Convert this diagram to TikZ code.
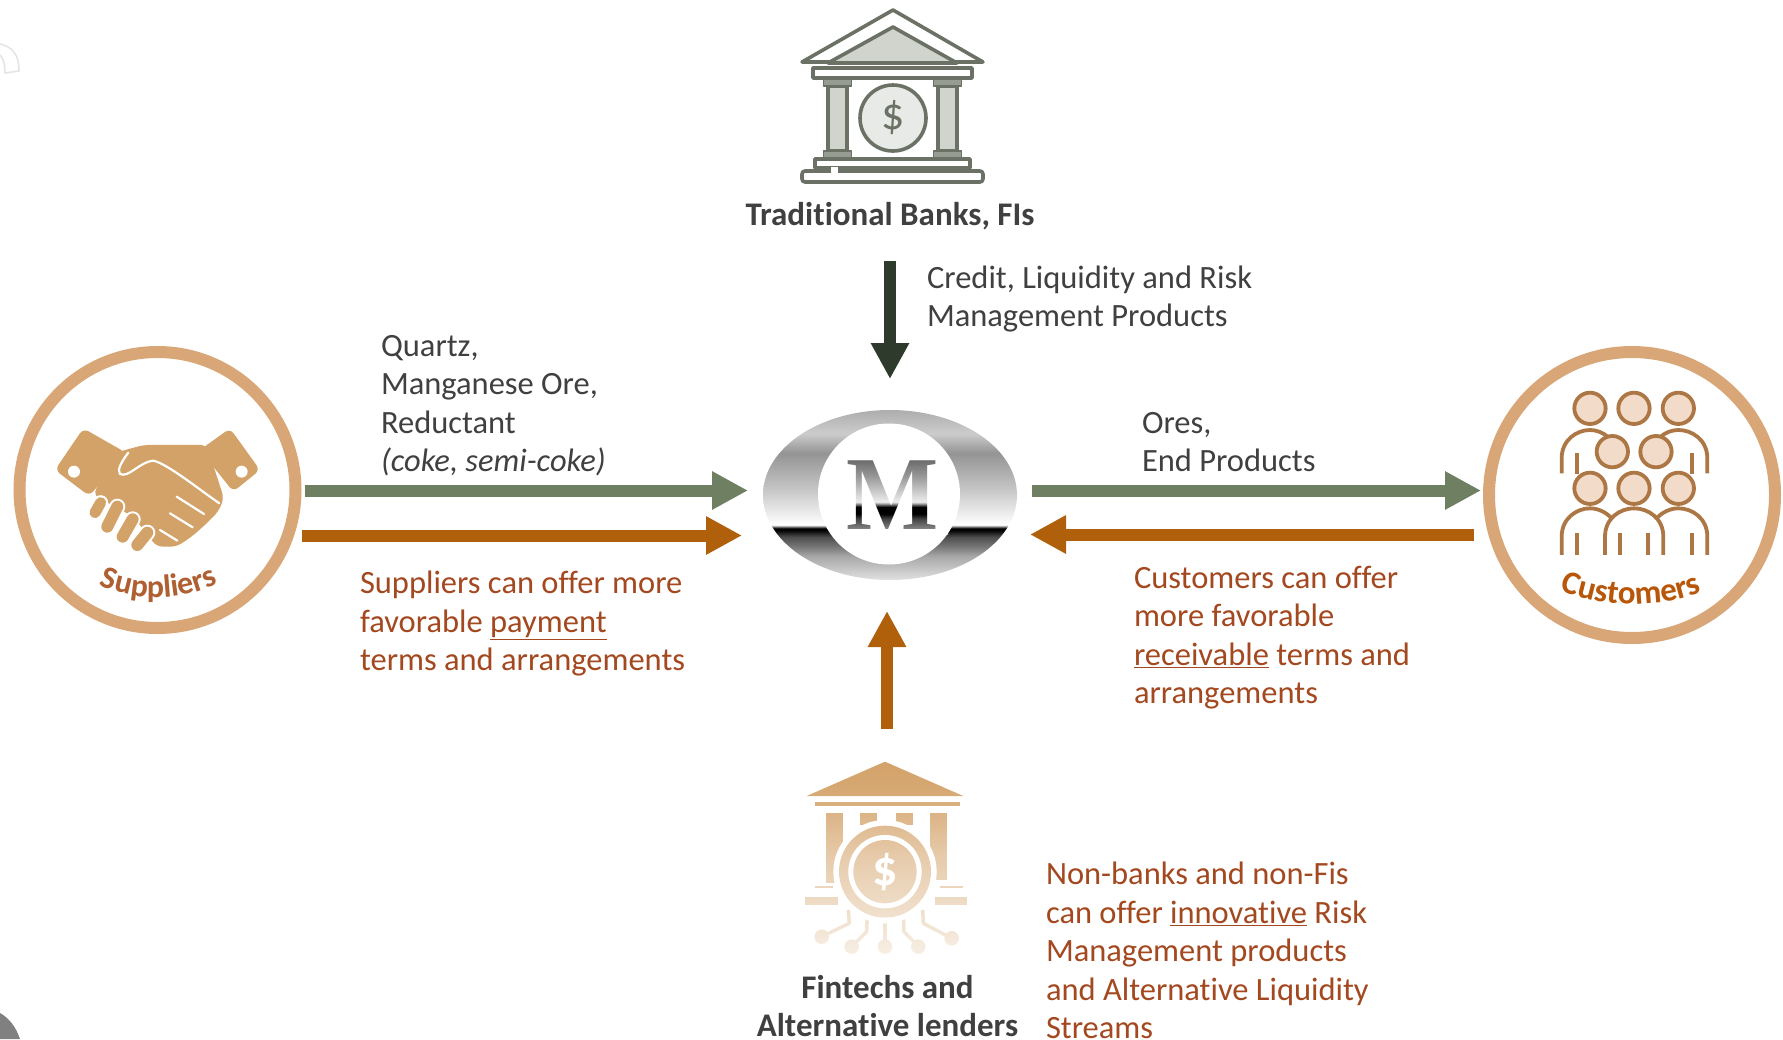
\documentclass[tikz,border=0pt]{standalone}
\usepackage{fontspec}
\setmainfont[Ligatures=NoCommon]{Carlito}
\newfontfamily\logofont{Liberation Serif}
\usetikzlibrary{arrows.meta,decorations.text,shapes.geometric,calc}
\definecolor{gbar}{HTML}{6E7F62}
\definecolor{obar}{HTML}{B0600A}
\definecolor{dbar}{HTML}{2E3B2C}
\definecolor{txtd}{HTML}{404040}
\definecolor{txto}{HTML}{A3481F}
\definecolor{ring}{HTML}{D9A777}
\definecolor{hand}{HTML}{D3A269}
\definecolor{bankd}{HTML}{6B7265}
\definecolor{bankl}{HTML}{D0D4CD}
\definecolor{cst}{HTML}{AD7745}
\definecolor{cfl}{HTML}{F2DCC9}
\pgfdeclareverticalshading{chrome}{100bp}{
color(0bp)=(white!88!black); color(25bp)=(white!88!black); color(31.9bp)=(white!66!black);
color(34.8bp)=(white!47!black); color(37.7bp)=(white!30!black); color(39.7bp)=(black); color(40.2bp)=(black); color(41.2bp)=(white);
color(51.5bp)=(white!78!black); color(62.3bp)=(white!58!black); color(68.1bp)=(white!80!black);
color(75bp)=(white!68!black); color(100bp)=(white!68!black)}
\pgfdeclareverticalshading{mchrome}{100bp}{
color(0bp)=(white!66!black); color(25bp)=(white!66!black); color(35bp)=(white!26!black);
color(38.3bp)=(black); color(42.8bp)=(black); color(46.1bp)=(white!93!black);
color(62.8bp)=(white!60!black); color(75bp)=(white!40!black); color(100bp)=(white!40!black)}
\pgfdeclareverticalshading{fintechfade}{100bp}{
color(0bp)=(white!84!hand); color(25bp)=(white!84!hand); color(50bp)=(white!45!hand);
color(68bp)=(white!5!hand); color(75bp)=(hand); color(100bp)=(hand)}
\tikzset{
 every node/.style={inner sep=0pt,outer sep=0pt},
 thickarrow/.style={line width=12pt,-{Triangle[length=36pt,width=36pt]}},
 greenarrow/.style={thickarrow,draw=gbar},
 orangearrow/.style={thickarrow,draw=obar},
 darkarrow/.style={thickarrow,draw=dbar},
 bodytext/.style={anchor=north west,align=left,text=txtd,font=\fontsize{32.5}{38.5}\selectfont},
 redtext/.style={bodytext,text=txto},
 headtext/.style={align=center,text=txtd,font=\fontsize{33}{38.5}\selectfont\bfseries},
 bankline/.style={draw=bankd,line width=3.6pt,line join=round},
 person/.style={draw=cst,line width=3.8pt,fill=cfl},
 limb/.style={draw=cst,line width=3.8pt},
 finger/.style={line cap=round},
}
\begin{document}
\begin{tikzpicture}[x=1pt,y=-1pt]
\useasboundingbox (0,0) rectangle (1783,1039);
\fill[white] (0,0) rectangle (1783,1039);

% corner remnants
\draw[draw=black!10,line width=1.6pt,line join=round] (0,44) .. controls (13,47) and (19,55) .. (19,71) -- (5,73) .. controls (5,64) and (3,58) .. (0,55);
\fill[black!50] (0,1013) .. controls (9,1018) and (16,1027) .. (20,1039) -- (0,1039) -- cycle;

% Traditional bank icon
\path[bankline,fill=white] (802,62) -- (893,10) -- (983,62) -- cycle;
\path[bankline,fill=bankl] (828,63) -- (893,27) -- (957,63) -- cycle;
\path[bankline,fill=white] (813,68) rectangle (972,78);
\foreach \cx in {837.5,947.5}{
 \path[bankline,fill=bankl,line width=3.4pt] (\cx-9.5,86) rectangle (\cx+9.5,151);
 \path[bankline,fill=bankd!70,line width=1.5pt] (\cx-14,79) rectangle (\cx+14,86);
 \path[bankline,fill=bankd!70,line width=1.5pt] (\cx-14,151) rectangle (\cx+14,158);
}
\path[bankline,fill=white] (815,159) rectangle (970,168);
\path[bankline,fill=white,rounded corners=3pt] (802,171) rectangle (983,182);
\fill[white] (831,167) rectangle (838,174);
\node[circle,draw=bankd,line width=3.6pt,fill=bankl!50,minimum size=66pt,text=bankd,font=\fontsize{46}{46}\selectfont] (bankcoin) at (893,118) {\$};
\node[headtext] (banklabel) at (890,216) {Traditional Banks, FIs};
\node[bodytext,font=\fontsize{32.5}{37.5}\selectfont] (banktext) at (927,266) {Credit, Liquidity and Risk\\Management Products};

% Suppliers
\node[circle,draw=ring,line width=12pt,minimum size=276pt] (suppliers) at (157.5,490) {};
\begin{scope}[shift={(0,330)},x=0.3333pt,y=-0.3333pt]
 \fill[hand,rounded corners=6pt] (250,295) -- (378,368) -- (268,498) -- (165,420) -- cycle;
 \fill[hand,rounded corners=6pt] (690,295) -- (780,420) -- (700,485) -- (600,360) -- cycle;
 \fill[hand,rounded corners=6pt] (340,370) -- (430,345) -- (620,345) -- (672,505) -- (655,545) -- (615,585) -- (575,620) -- (530,650) -- (470,650) -- (400,560) -- (280,495) -- cycle;
 \fill[white] (222,425) circle[radius=18];
 \fill[white] (725,425) circle[radius=18];
 \draw[white,line width=2.2pt,line cap=round,line join=round] (385,368) .. controls (365,395) and (350,420) .. (360,432) .. controls (385,445) and (420,395) .. (460,392) .. controls (500,400) and (600,480) .. (658,520);
 \draw[white,line width=2.2pt,line cap=round] (530,500) -- (612,552);
 \draw[white,line width=2.2pt,line cap=round] (510,550) -- (578,592);
 \draw[white,line width=2.2pt,line cap=round] (480,600) -- (532,632);
 \draw[white,finger,line width=15pt] (302,518) -- (285,548);
 \draw[hand,finger,line width=11pt] (302,518) -- (285,548);
 \draw[white,finger,line width=16pt] (352,530) -- (322,590);
 \draw[hand,finger,line width=12pt] (352,530) -- (322,590);
 \draw[white,finger,line width=16pt] (398,568) -- (368,620);
 \draw[hand,finger,line width=12pt] (398,568) -- (368,620);
 \draw[white,finger,line width=16pt] (442,608) -- (412,645);
 \draw[hand,finger,line width=12pt] (442,608) -- (412,645);
\end{scope}
\path[decorate,decoration={text along path,text align=center,text={|\fontsize{32}{32}\selectfont\bfseries\color{txto!75!hand}|Suppliers}}] (84,578) .. controls (130,604) and (185,604) .. (233,576);

% Customers
\node[circle,draw=ring,line width=12pt,minimum size=286pt] (customers) at (1632,495) {};
\begin{scope}[shift={(1470,330)},x=0.3333pt,y=-0.3333pt]
 \foreach \px/\py in {360/235,492/235,625/235,427/365,558/365,360/475,492/475,625/475}{
  \path[person] (\px,\py) circle[radius=47];
 }
 \draw[limb] (275,430) -- (275,385) .. controls (275,330) and (320,300) .. (360,300) .. controls (380,300) and (400,308) .. (415,322);
 \draw[limb] (712,430) -- (712,385) .. controls (712,330) and (667,300) .. (625,300) .. controls (605,300) and (585,308) .. (570,322);
 \draw[limb] (320,370) -- (320,432);
 \draw[limb] (667,370) -- (667,432);
 \draw[limb] (275,675) -- (275,620) .. controls (275,565) and (320,535) .. (360,535) .. controls (385,535) and (410,548) .. (425,565);
 \draw[limb] (712,675) -- (712,620) .. controls (712,565) and (667,535) .. (625,535) .. controls (600,535) and (575,548) .. (560,565);
 \draw[limb] (405,675) -- (405,620) .. controls (405,565) and (450,535) .. (492,535) .. controls (535,535) and (580,565) .. (580,620) -- (580,675);
 \foreach \lx in {320,450,535,667}{ \draw[limb] (\lx,608) -- (\lx,675); }
\end{scope}
\path[decorate,decoration={text along path,text align=center,text={|\fontsize{33}{33}\selectfont\bfseries\color{obar!90!red}|Customers}}] (1545,583) .. controls (1595,610) and (1665,612) .. (1717,585);

% M logo
\path[shading=chrome,shading angle=0] (890,495) ellipse[x radius=127,y radius=85];
\node[ellipse,fill=white,minimum width=142pt,minimum height=141pt] (logo) at (889,494) {};
\node[text=black,font=\fontsize{105}{105}\logofont\bfseries,xscale=0.93] (logoM) at (893,495) {M};
\begin{scope}[blend mode=screen]
 \path[shading=mchrome] (838,458) rectangle (948,534);
\end{scope}

% Fintech icon
\begin{scope}[shift={(750,750)},x=0.3333pt,y=-0.3333pt]
 \fill[black] (405,35) -- (640,138) -- (170,138) -- cycle;
 \fill[black] (195,157) rectangle (630,167);
 \fill[black] (228,188) rectangle (280,400);
 \fill[black] (330,188) rectangle (382,225);
 \fill[black] (438,188) rectangle (490,225);
 \fill[black] (540,188) rectangle (590,390);
 \fill[black] (165,440) rectangle (265,465);
 \fill[black] (555,440) rectangle (650,465);
 \fill[black] (195,408) rectangle (250,414);
 \fill[black] (570,408) rectangle (640,414);
 \draw[black,line width=3.5pt,line join=round] (295,480) -- (298,520) -- (215,560);
 \draw[black,line width=3.5pt,line join=round] (352,495) -- (350,545) -- (305,590);
 \draw[black,line width=3.5pt] (405,505) -- (405,590);
 \draw[black,line width=3.5pt,line join=round] (460,495) -- (462,545) -- (505,590);
 \draw[black,line width=3.5pt,line join=round] (518,480) -- (520,520) -- (605,565);
 \foreach \dx/\dy in {215/560,305/590,405/590,505/590,605/565}{ \fill[black] (\dx,\dy) circle[radius=22]; }
 \fill[white] (405,365) circle[radius=155];
 \fill[black] (405,365) circle[radius=138];
 \fill[white] (405,365) circle[radius=110];
 \fill[black] (405,365) circle[radius=95];
\end{scope}
\node[text=white,font=\fontsize{50}{50}\selectfont\bfseries] (fincoin) at (885,872) {\$};
\begin{scope}[blend mode=screen]
 \path[shading=fintechfade] (795,758) rectangle (985,960);
\end{scope}
\node[headtext] (finlabel) at (887.5,1006) {Fintechs and\\Alternative lenders};

% Arrows
\coordinate (sg0) at (305,490.5); \coordinate (sg1) at (748,490.5);
\coordinate (so0) at (302,535.5); \coordinate (so1) at (742,535.5);
\coordinate (cg0) at (1032,490.5); \coordinate (cg1) at (1481,490.5);
\coordinate (co0) at (1474,534.5); \coordinate (co1) at (1030,534.5);
\coordinate (bk0) at (890,261); \coordinate (bk1) at (890,379);
\coordinate (ft0) at (887,729); \coordinate (ft1) at (887,611);
\draw[greenarrow] (sg0) -- (sg1);
\draw[orangearrow] (so0) -- (so1);
\draw[greenarrow] (cg0) -- (cg1);
\draw[orangearrow] (co0) -- (co1);
\draw[darkarrow] (bk0) -- (bk1);
\draw[orangearrow] (ft0) -- (ft1);

% Labels
\node[bodytext] (quartz) at (381,335) {Quartz,\\Manganese Ore,\\Reductant\\\textit{(coke, semi-coke)}};
\node[bodytext] (ores) at (1142,412) {Ores,\\End Products};
\node[redtext] (suptext) at (360,571) {Suppliers can offer more\\favorable \underline{payment}\\terms and arrangements};
\node[redtext] (custext) at (1134,566) {Customers can offer\\more favorable\\\underline{receivable} terms and\\arrangements};
\node[redtext] (fintext) at (1046,862) {Non-banks and non-Fis\\can offer \underline{innovative} Risk\\Management products\\and Alternative Liquidity\\Streams};
\end{tikzpicture}
\end{document}
